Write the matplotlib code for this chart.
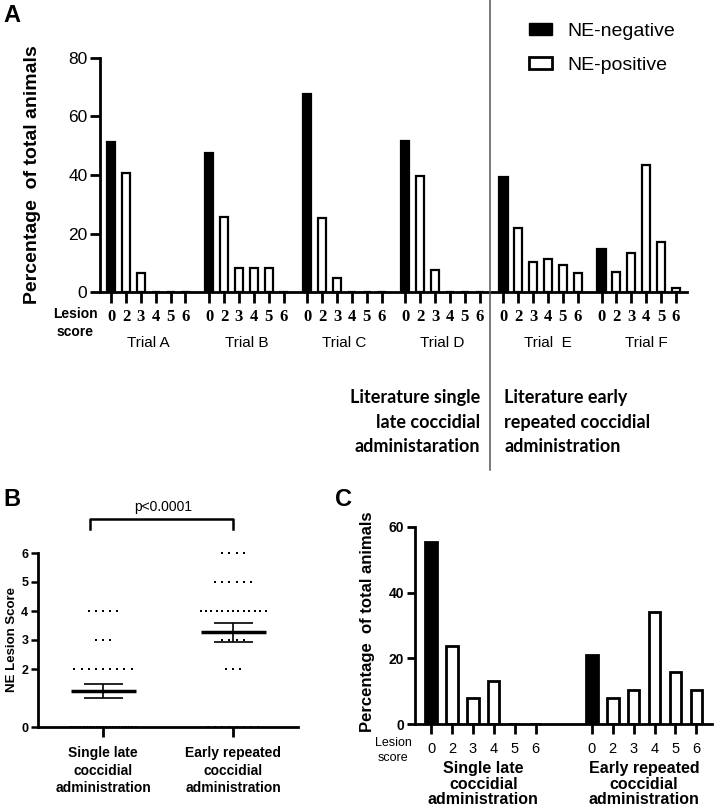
import matplotlib
matplotlib.use("Agg")
import matplotlib.pyplot as plt
import matplotlib.transforms as mtransforms
from matplotlib.patches import Patch
from matplotlib.lines import Line2D
import numpy as np

plt.rcParams['font.family'] = ['Liberation Sans', 'DejaVu Sans']

W, H = 714, 811

# panel A - literature trials, % of animals per lesion score
lesion_scores = ["0", "2", "3", "4", "5", "6"]
trial_names = ["Trial A", "Trial B", "Trial C", "Trial D", "Trial  E", "Trial F"]
trial_a = [51.3, 40.7, 6.5, 0, 0, 0]
trial_b = [47.5, 25.6, 8.3, 8.3, 8.3, 0]
trial_c = [67.7, 25.3, 4.7, 0, 0, 0]
trial_d = [51.6, 39.7, 7.5, 0, 0, 0]
trial_e = [39.3, 21.9, 10.2, 11.2, 9.2, 6.5]
trial_f = [14.7, 6.9, 13.3, 43.4, 17.1, 1.4]
legend_labels = ["NE-negative", "NE-positive"]

# panel B - number of birds per lesion score
score_values = [0, 2, 3, 4, 5, 6]
single_late_counts = [21, 9, 3, 5, 0, 0]
early_repeated_counts = [8, 3, 4, 13, 6, 4]

# panel C - pooled %
single_late_pct = [55.3, 23.7, 7.9, 13.2, 0, 0]
early_repeated_pct = [21.1, 7.9, 10.5, 34.2, 15.8, 10.5]
group_names = ["Single late\ncoccidial\nadministration",
               "Early repeated\ncoccidial\nadministration"]


def fx(x):
    return x / W


def fy(y):
    return 1 - y / H


def style_axes(ax, lw=2):
    for s in ["top", "right"]:
        ax.spines[s].set_visible(False)
    for s in ["left", "bottom"]:
        ax.spines[s].set_linewidth(lw)


fig = plt.figure(figsize=(W / 100, H / 100), dpi=100)

# ---------------- A ----------------
axA = fig.add_axes([fx(100), fy(292), (687 - 100) / W, (292 - 58) / H])
style_axes(axA)
stride_a = 6.6
pos = np.arange(len(lesion_scores))
trials = [trial_a, trial_b, trial_c, trial_d, trial_e, trial_f]
bar_colors = ["black"] + ["white"] * (len(lesion_scores) - 1)
xticks = []
for g, vals in enumerate(trials):
    xs = g * stride_a + pos
    axA.bar(xs, vals, width=0.55, color=bar_colors, edgecolor="black", linewidth=1.6)
    xticks.extend(xs)
axA.set_xlim(-0.75, (len(trials) - 1) * stride_a + 5.75)
axA.set_ylim(0, 80)
axA.set_yticks([0, 20, 40, 60, 80])
axA.tick_params(axis="y", labelsize=12.5, length=7, width=2, pad=2)
axA.set_xticks(xticks)
axA.set_xticklabels(lesion_scores * len(trials), family=["Liberation Serif"],
                    fontweight="bold", fontsize=12)
axA.tick_params(axis="x", length=8, width=2, pad=4)

fig.text(fx(33), fy(175), "Percentage  of total animals", rotation=90,
         ha="center", va="center", fontsize=14, fontweight="bold")
fig.text(fx(75), fy(314), "Lesion", ha="center", va="center", fontsize=10, fontweight="bold")
fig.text(fx(75), fy(332), "score", ha="center", va="center", fontsize=10, fontweight="bold")

trA = mtransforms.blended_transform_factory(axA.transData, fig.transFigure)
for g, name in enumerate(trial_names):
    shift = 0.5 if g >= 4 else 0
    axA.text(g * stride_a + 2.5 + shift, fy(343), name, transform=trA, ha="center",
             va="center", fontsize=11)

lit_font = dict(fontsize=13, fontweight="bold", family=["Lato", "DejaVu Sans"])
for i, line in enumerate(["Literature single", "late coccidial", "administaration"]):
    fig.text(fx(480), fy(398 + 24.5 * i), line, ha="right", va="center", **lit_font)
for i, line in enumerate(["Literature early", "repeated coccidial", "administration"]):
    fig.text(fx(504), fy(398 + 24.5 * i), line, ha="left", va="center", **lit_font)

fig.add_artist(Line2D([fx(490), fx(490)], [fy(0), fy(470)], color="#555555", lw=1.1))

handles = [Patch(facecolor="black", edgecolor="black"),
           Patch(facecolor="white", edgecolor="black", linewidth=2)]
fig.legend(handles, legend_labels, loc="upper left", bbox_to_anchor=(fx(529), fy(23)),
           frameon=False, fontsize=14, handlelength=1.2, handleheight=0.6,
           labelspacing=0.85, handletextpad=0.75, borderaxespad=0, borderpad=0)

fig.text(fx(3), fy(16), "A", ha="left", va="center", fontsize=17, fontweight="bold")

# ---------------- B ----------------
axB = fig.add_axes([fx(38), fy(727), 260 / W, 174 / H])
style_axes(axB)
axB.set_xlim(0.5, 2.5)
axB.set_ylim(0, 6)
for gi, counts in enumerate([single_late_counts, early_repeated_counts]):
    xc = gi + 1
    for sc, n in zip(score_values, counts):
        if n == 0:
            continue
        spacing = min(0.055, 0.5 / max(n - 1, 1))
        offs = (np.arange(n) - (n - 1) / 2) * spacing
        axB.scatter(xc + offs, np.full(n, sc), marker="s", s=4, color="black",
                    linewidths=0, clip_on=False, zorder=1)
    vals = np.repeat(score_values, counts)
    mean = vals.mean()
    sem = vals.std(ddof=1) / np.sqrt(len(vals))
    axB.hlines(mean, xc - 0.25, xc + 0.25, color="black", lw=2.5, zorder=3)
    axB.vlines(xc, mean - sem, mean + sem, color="black", lw=1.2, zorder=3)
    axB.hlines([mean - sem, mean + sem], xc - 0.15, xc + 0.15, color="black", lw=1.2, zorder=3)

axB.plot([0.903, 0.903, 2.0, 2.0], [6.83, 7.17, 7.17, 6.83], color="black", lw=1.8,
         clip_on=False)
axB.text(1.46, 7.59, "p<0.0001", ha="center", va="center", fontsize=10)
axB.set_yticks(score_values)
axB.set_yticklabels([str(v) for v in score_values], fontweight="bold", fontsize=9)
axB.tick_params(axis="y", length=5, width=1.8, pad=2)
axB.set_xticks([1, 2])
axB.set_xticklabels(group_names, fontweight="bold", fontsize=10, linespacing=1.3)
axB.tick_params(axis="x", length=7, width=2, pad=7)
fig.text(fx(12), fy(640), "NE Lesion Score", rotation=90, ha="center", va="center",
         fontsize=9.5, fontweight="bold")
fig.text(fx(3), fy(500), "B", ha="left", va="center", fontsize=17, fontweight="bold")

# ---------------- C ----------------
axC = fig.add_axes([fx(415), fy(724), 297 / W, 197 / H])
style_axes(axC)
stride_c = 7.7
xticks_c = []
for g, vals in enumerate([single_late_pct, early_repeated_pct]):
    xs = g * stride_c + pos
    axC.bar(xs, vals, width=0.55, color=bar_colors, edgecolor="black", linewidth=2)
    xticks_c.extend(xs)
axC.set_xlim(-0.77, 13.45)
axC.set_ylim(0, 60)
axC.set_yticks([0, 20, 40, 60])
axC.tick_params(axis="y", labelsize=10, length=6, width=2, pad=2)
for t in axC.get_yticklabels():
    t.set_fontweight("bold")
axC.set_xticks(xticks_c)
axC.set_xticklabels(lesion_scores * 2, fontsize=10.5)
axC.tick_params(axis="x", length=7, width=2, pad=6)

fig.text(fx(368), fy(622), "Percentage  of total animals", rotation=90,
         ha="center", va="center", fontsize=12, fontweight="bold")
fig.text(fx(393), fy(743), "Lesion", ha="center", va="center", fontsize=9)
fig.text(fx(393), fy(758), "score", ha="center", va="center", fontsize=9)
trC = mtransforms.blended_transform_factory(axC.transData, fig.transFigure)
for g, name in enumerate(group_names):
    axC.text(g * stride_c + 2.5, fy(761), name, transform=trC, ha="center", va="top",
             fontsize=11.5, fontweight="bold", linespacing=1.05)
fig.text(fx(335), fy(500), "C", ha="left", va="center", fontsize=17, fontweight="bold")

fig.savefig("out.png", dpi=100)
